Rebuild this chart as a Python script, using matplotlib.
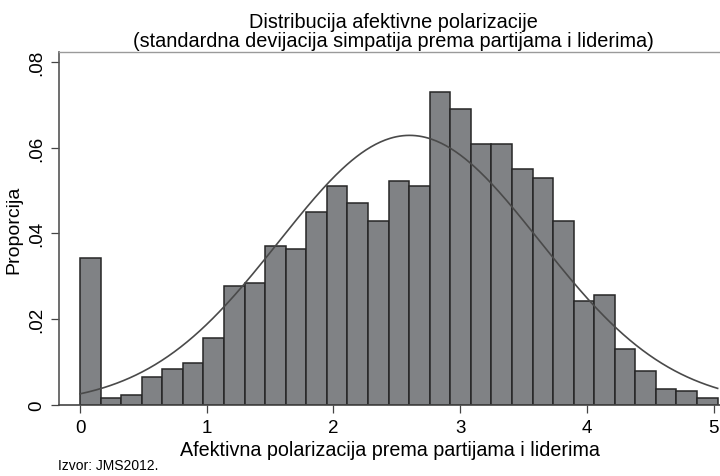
import numpy as np
import matplotlib
matplotlib.use("Agg")
import matplotlib.pyplot as plt

plt.rcParams['font.family'] = ['Liberation Sans', 'DejaVu Sans']

# proportions per bin (31 equal-width bins starting at 0)
bin_start = 0.0
bin_width = 0.1623
proportions = [0.0343, 0.0017, 0.0023, 0.0065, 0.0084, 0.0098, 0.0157, 0.0277,
               0.0284, 0.0370, 0.0364, 0.0449, 0.0511, 0.0470, 0.0430, 0.0523,
               0.0511, 0.0729, 0.0689, 0.0609, 0.0609, 0.0551, 0.0530, 0.0430,
               0.0243, 0.0257, 0.0131, 0.0079, 0.0037, 0.0032, 0.0017]

# normal overlay parameters (mean, sd of the variable)
fit_mean = 2.60
fit_sd = 1.03

x_ticks = [0, 1, 2, 3, 4, 5]
y_ticks = [0, 0.02, 0.04, 0.06, 0.08]
y_ticklabels = ['0', '.02', '.04', '.06', '.08']

title = "Distribucija afektivne polarizacije\n(standardna devijacija simpatija prema partijama i liderima)"
xlabel = "Afektivna polarizacija prema partijama i liderima"
ylabel = "Proporcija"
note = "Izvor: JMS2012."

fig = plt.figure(figsize=(7.2, 4.77), dpi=100)
ax = fig.add_axes([59 / 720, 1 - 406 / 477, 661 / 720, 353 / 477])

lefts = bin_start + bin_width * np.arange(len(proportions))
ax.bar(lefts, proportions, width=bin_width, align='edge',
       color='#808285', edgecolor='#262626', linewidth=1.1, zorder=2)

# fitted normal curve scaled to bin proportions
xs = np.linspace(0, lefts[-1] + bin_width, 400)
dens = bin_width * np.exp(-0.5 * ((xs - fit_mean) / fit_sd) ** 2) / (fit_sd * np.sqrt(2 * np.pi))
ax.plot(xs, dens, color='#4a4a4a', lw=1.2, zorder=3)

ax.set_xlim(-0.166, 5.05)
ax.set_ylim(0, 0.0823)
ax.set_xticks(x_ticks)
ax.set_yticks(y_ticks)
ax.set_yticklabels(y_ticklabels, rotation=90, va='center')
ax.tick_params(axis='both', direction='out', length=6, width=0.9, color='#444444',
               labelsize=13.5, pad=4)

ax.spines['right'].set_visible(False)
ax.spines['top'].set_color('#9a9a9a')
ax.spines['top'].set_linewidth(1.0)
ax.spines['left'].set_color('#555555')
ax.spines['bottom'].set_color('#444444')
ax.spines['left'].set_linewidth(1.2)
ax.spines['bottom'].set_linewidth(1.2)

ax.set_xlabel(xlabel, fontsize=14.2, labelpad=3)
ax.set_ylabel(ylabel, fontsize=14, labelpad=4)
fig.text(393 / 720, 1 - 32 / 477, title, ha='center', va='center', fontsize=14.3, linespacing=0.95)
fig.text(58 / 720, 1 - 466 / 477, note, ha='left', va='center', fontsize=10)

fig.savefig('out.png', dpi=100)
